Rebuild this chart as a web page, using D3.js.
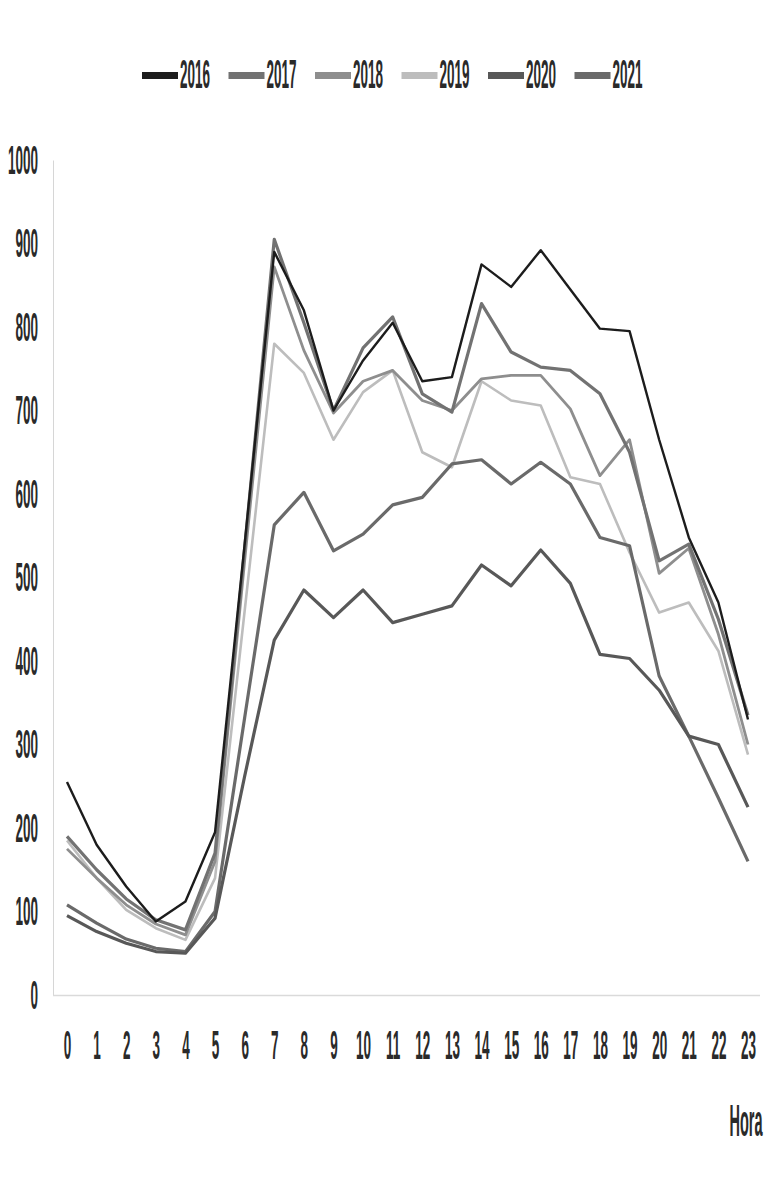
<!DOCTYPE html>
<html>
<head>
<meta charset="utf-8">
<script src="https://cdn.jsdelivr.net/npm/d3@7"></script>
<style>
  html, body { margin: 0; padding: 0; background: #fff; }
  svg text { font-family: "Liberation Sans", Arial, sans-serif; }
</style>
</head>
<body>
<svg id="chart" width="779" height="1196"></svg>
<script>
const hours = [0,1,2,3,4,5,6,7,8,9,10,11,12,13,14,15,16,17,18,19,20,21,22,23];
const years = ["2016","2017","2018","2019","2020","2021"];
const yTicks = [0,100,200,300,400,500,600,700,800,900,1000];
const xTitle = "Hora";

const v2016 = [255,180,130,88,112,195,540,890,820,700,760,805,735,740,875,848,892,845,798,795,665,548,470,330];
const v2017 = [190,150,115,90,78,170,535,905,805,700,775,812,720,698,828,770,752,748,720,650,520,540,450,335];
const v2018 = [175,140,108,85,72,160,520,872,772,697,735,748,712,700,738,742,742,702,622,665,505,535,432,300];
const v2019 = [185,140,102,80,66,140,460,780,745,665,722,748,650,632,735,712,706,620,612,530,458,470,412,288];
const v2020 = [95,76,62,52,50,92,262,425,485,452,485,446,456,466,515,490,533,493,408,403,365,310,300,225];
const v2021 = [108,86,67,56,52,100,332,563,602,532,552,587,596,636,641,612,638,612,548,538,382,310,236,160];

const seriesValues = [v2016, v2017, v2018, v2019, v2020, v2021];
const colors = ["#1c1c1c","#727272","#8e8e8e","#bdbdbd","#585858","#6a6a6a"];
const widths = [2.4, 3.2, 2.8, 2.6, 3.2, 3.2];

const svg = d3.select("#chart");
const defs = svg.append("defs");
defs.append("filter").attr("id","soft")
  .append("feGaussianBlur").attr("stdDeviation",0.6);

const x = d3.scaleLinear().domain([0,23]).range([67,748]);
const y = d3.scaleLinear().domain([0,1000]).range([995,160]);
const TXT = "#2a2a2a";
const SY = 3;

// Y axis
const yAxis = svg.append("g").attr("transform","translate(53,0)")
  .call(d3.axisLeft(y).tickValues(yTicks).tickSize(0).tickFormat(d3.format("d")));
yAxis.select(".domain").attr("stroke","#d6d6d6").attr("stroke-width",1);
yAxis.selectAll("text")
  .attr("x",null).attr("dy","0.33em")
  .attr("transform",`translate(-15,0) scale(1,${SY})`)
  .attr("fill",TXT).style("font-size","13.5px").style("font-weight","bold")
  .attr("text-anchor","end");

// X axis
const xAxis = svg.append("g").attr("transform","translate(0,995)")
  .call(d3.axisBottom(x).tickValues(hours).tickSize(0).tickFormat(d3.format("d")));
xAxis.select(".domain").attr("stroke","#dadada").attr("stroke-width",1.5)
  .attr("d", "M53,0.5H760");
xAxis.selectAll("text")
  .attr("y",0).attr("dy","0.33em")
  .attr("transform",`translate(0,51) scale(1,${SY})`)
  .attr("fill",TXT).style("font-size","13.5px").style("font-weight","bold")
  .attr("text-anchor","middle");

svg.append("text")
  .attr("transform",`translate(746,1122) scale(1,${SY})`)
  .attr("dy","0.33em").attr("text-anchor","middle")
  .attr("fill",TXT).style("font-size","14.5px").style("font-weight","bold")
  .text(xTitle);

// Lines
const line = d3.line().x((d,i)=>x(hours[i])).y(d=>y(d));
const order = [3,2,1,5,4,0];
const lg = svg.append("g").attr("filter","url(#soft)");
order.forEach(k=>{
  lg.append("path")
    .datum(seriesValues[k])
    .attr("fill","none")
    .attr("stroke",colors[k])
    .attr("stroke-width",widths[k])
    .attr("stroke-linejoin","round")
    .attr("d",line);
});

// Legend
const leg = svg.append("g");
years.forEach((yr,i)=>{
  const gx = 142 + i*86.5;
  const g = leg.append("g").attr("transform",`translate(${gx},0)`);
  g.append("rect").attr("x",0).attr("y",72).attr("width",36).attr("height",7)
    .attr("fill",colors[i]);
  g.append("text")
    .attr("transform",`translate(38,75) scale(1,${SY})`)
    .attr("dy","0.33em")
    .attr("fill",TXT).style("font-size","13.5px").style("font-weight","bold")
    .text(yr);
});
</script>
</body>
</html>
